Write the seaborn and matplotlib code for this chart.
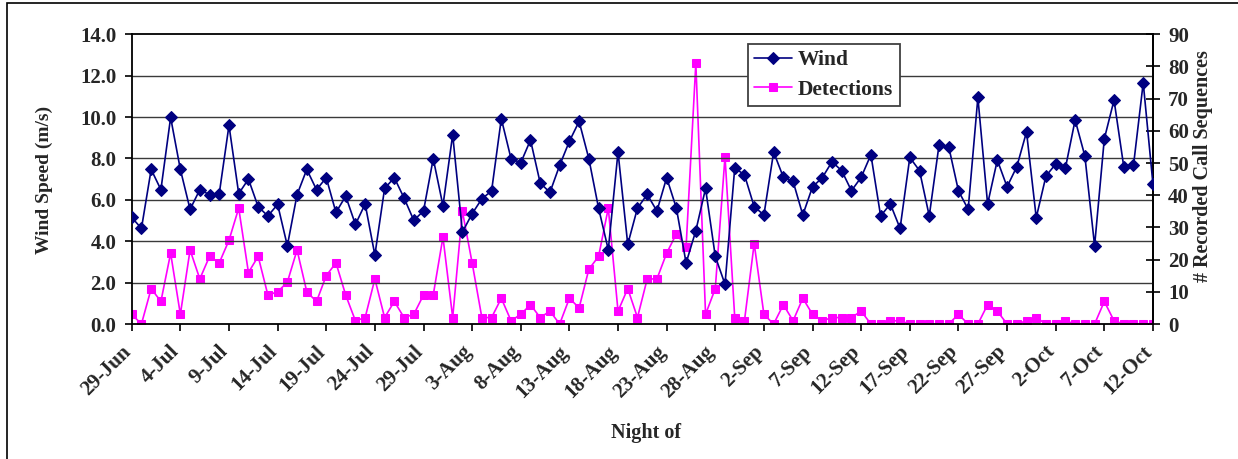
import numpy as np
import pandas as pd
import matplotlib
matplotlib.use("Agg")
import matplotlib.pyplot as plt
import matplotlib.transforms as mtransforms
import seaborn as sns
from matplotlib.patches import Rectangle

# ---- data (nights from 29-Jun to 13-Oct) ----
wind = [5.15, 4.62, 7.47, 6.49, 9.98, 7.47, 5.54, 6.49, 6.25, 6.30,
        9.60, 6.30, 7.00, 5.67, 5.22, 5.78, 3.78, 6.25, 7.47, 6.49,
        7.07, 5.39, 6.18, 4.81, 5.80, 3.33, 6.55, 7.07, 6.09, 5.01,
        5.46, 7.99, 5.72, 9.15, 4.44, 5.33, 6.05, 6.43, 9.92, 7.99,
        7.79, 8.89, 6.81, 6.36, 7.67, 8.83, 9.79, 7.99, 5.60, 3.59,
        8.31, 3.85, 5.60, 6.26, 5.46, 7.07, 5.60, 2.95, 4.51, 6.55,
        3.27, 1.92, 7.54, 7.21, 5.67, 5.27, 8.31, 7.09, 6.89, 5.27,
        6.63, 7.07, 7.84, 7.41, 6.44, 7.09, 8.18, 5.22, 5.80, 4.62,
        8.05, 7.41, 5.22, 8.63, 8.57, 6.44, 5.54, 10.95, 5.80, 7.92,
        6.63, 7.60, 9.28, 5.14, 7.15, 7.73, 7.54, 9.86, 8.12, 3.78,
        8.95, 10.82, 7.60, 7.67, 11.66, 6.76, 4.80]

detections = [3, 0, 11, 7, 22, 3, 23, 14, 21, 19,
              26, 36, 16, 21, 9, 10, 13, 23, 10, 7,
              15, 19, 9, 1, 2, 14, 2, 7, 2, 3,
              9, 9, 27, 2, 35, 19, 2, 2, 8, 1,
              3, 6, 2, 4, 0, 8, 5, 17, 21, 36,
              4, 11, 2, 14, 14, 22, 28, 24, 81, 3,
              11, 52, 2, 1, 25, 3, 0, 6, 1, 8,
              3, 1, 2, 2, 2, 4, 0, 0, 1, 1,
              0, 0, 0, 0, 0, 3, 0, 0, 6, 4,
              0, 0, 1, 2, 0, 0, 1, 0, 0, 0,
              7, 1, 0, 0, 0, 0]

tick_labels = ['29-Jun', '4-Jul', '9-Jul', '14-Jul', '19-Jul', '24-Jul',
               '29-Jul', '3-Aug', '8-Aug', '13-Aug', '18-Aug', '23-Aug',
               '28-Aug', '2-Sep', '7-Sep', '12-Sep', '17-Sep', '22-Sep',
               '27-Sep', '2-Oct', '7-Oct', '12-Oct']

wind_df = pd.DataFrame({'night': np.arange(len(wind)), 'Wind': wind})
det_df = pd.DataFrame({'night': np.arange(len(detections)), 'Detections': detections})

# ---- style ----
sns.set_style('ticks')
plt.rcParams['font.family'] = ['Liberation Serif', 'DejaVu Serif']
plt.rcParams['font.weight'] = 'bold'
plt.rcParams['axes.labelweight'] = 'bold'

fig = plt.figure(figsize=(12.38, 4.59), dpi=100)
ax = fig.add_axes([0.1064, 0.2941, 0.8249, 0.6312])
ax2 = ax.twinx()

navy = '#000080'
magenta = '#FF00FF'

sns.lineplot(data=wind_df, x='night', y='Wind', ax=ax, color=navy, lw=1.2,
             marker='D', markersize=6.5, markeredgecolor=navy, label='Wind',
             legend=False, zorder=4)
sns.lineplot(data=det_df, x='night', y='Detections', ax=ax2, color=magenta, lw=1.2,
             marker='s', markersize=6, markeredgecolor=magenta, label='Detections',
             legend=False, zorder=3)

ax.set_zorder(ax2.get_zorder() + 1)
ax.patch.set_visible(False)

n_last = len(detections) - 1
ax.set_xlim(0, n_last)
ax.set_ylim(0, 14)
ax2.set_ylim(0, 90)

ax.set_yticks(np.arange(0, 14.1, 2))
ax.set_yticklabels([f'{v:.1f}' for v in np.arange(0, 14.1, 2)])
ax2.set_yticks(np.arange(0, 91, 10))

ax.set_xticks(np.arange(0, n_last + 1, 5))
ax.set_xticklabels(tick_labels, rotation=45, ha='right', va='top',
                   rotation_mode='anchor')

for gy in np.arange(2, 13, 2):
    ax.axhline(gy, color='#3a3a3a', lw=1.0, zorder=0)

for sp in ['left', 'bottom', 'top', 'right']:
    ax.spines[sp].set_visible(True)
    ax.spines[sp].set_color('black')
    ax.spines[sp].set_linewidth(1.3)
for sp in ['left', 'bottom', 'top']:
    ax2.spines[sp].set_visible(False)
ax2.spines['right'].set_color('black')
ax2.spines['right'].set_linewidth(1.3)

ax.tick_params(axis='both', direction='out', length=5, width=1.2, color='black',
               labelsize=15, pad=6)
ax.tick_params(axis='x', pad=4)
ax2.tick_params(axis='y', direction='inout', length=10, width=1.2, color='black',
                labelsize=15, pad=6)

for lab in ax.get_xticklabels() + ax.get_yticklabels() + ax2.get_yticklabels():
    lab.set_fontweight('bold')

# shift x tick labels to sit like the reference
offset = mtransforms.ScaledTranslation(-11 / 100, -5 / 100, fig.dpi_scale_trans)
for lab in ax.get_xticklabels():
    lab.set_transform(lab.get_transform() + offset)

ax.set_xlabel('Night of', fontsize=14.5, fontweight='bold')
ax.xaxis.set_label_coords(0.5036, -0.342)
ax.set_ylabel('Wind Speed (m/s)', fontsize=14, fontweight='bold')
ax.yaxis.set_label_coords(-0.077, 0.497)
ax2.set_ylabel('# Recorded Call Sequences', fontsize=14.5, fontweight='bold')
ax2.yaxis.set_label_coords(1.039, 0.545)

h1, l1 = ax.get_legend_handles_labels()
h2, l2 = ax2.get_legend_handles_labels()
leg = ax.legend(h1 + h2, l1 + l2, loc='upper left', bbox_to_anchor=(0.603, 0.968),
                borderaxespad=0, frameon=True, fancybox=False, framealpha=1,
                edgecolor='#404040', prop={'weight': 'bold', 'size': 15.5},
                handlelength=1.75, handletextpad=0.3, borderpad=0.3,
                labelspacing=0.45)
leg.get_frame().set_linewidth(1.3)
leg.set_zorder(10)

# outer chart border
fig.patches.append(Rectangle((7 / 1238, -0.01), 1.0, 1 - 3 / 459 + 0.01,
                             transform=fig.transFigure, fill=False,
                             edgecolor='black', lw=1.2))

fig.savefig('out.png', dpi=100)
